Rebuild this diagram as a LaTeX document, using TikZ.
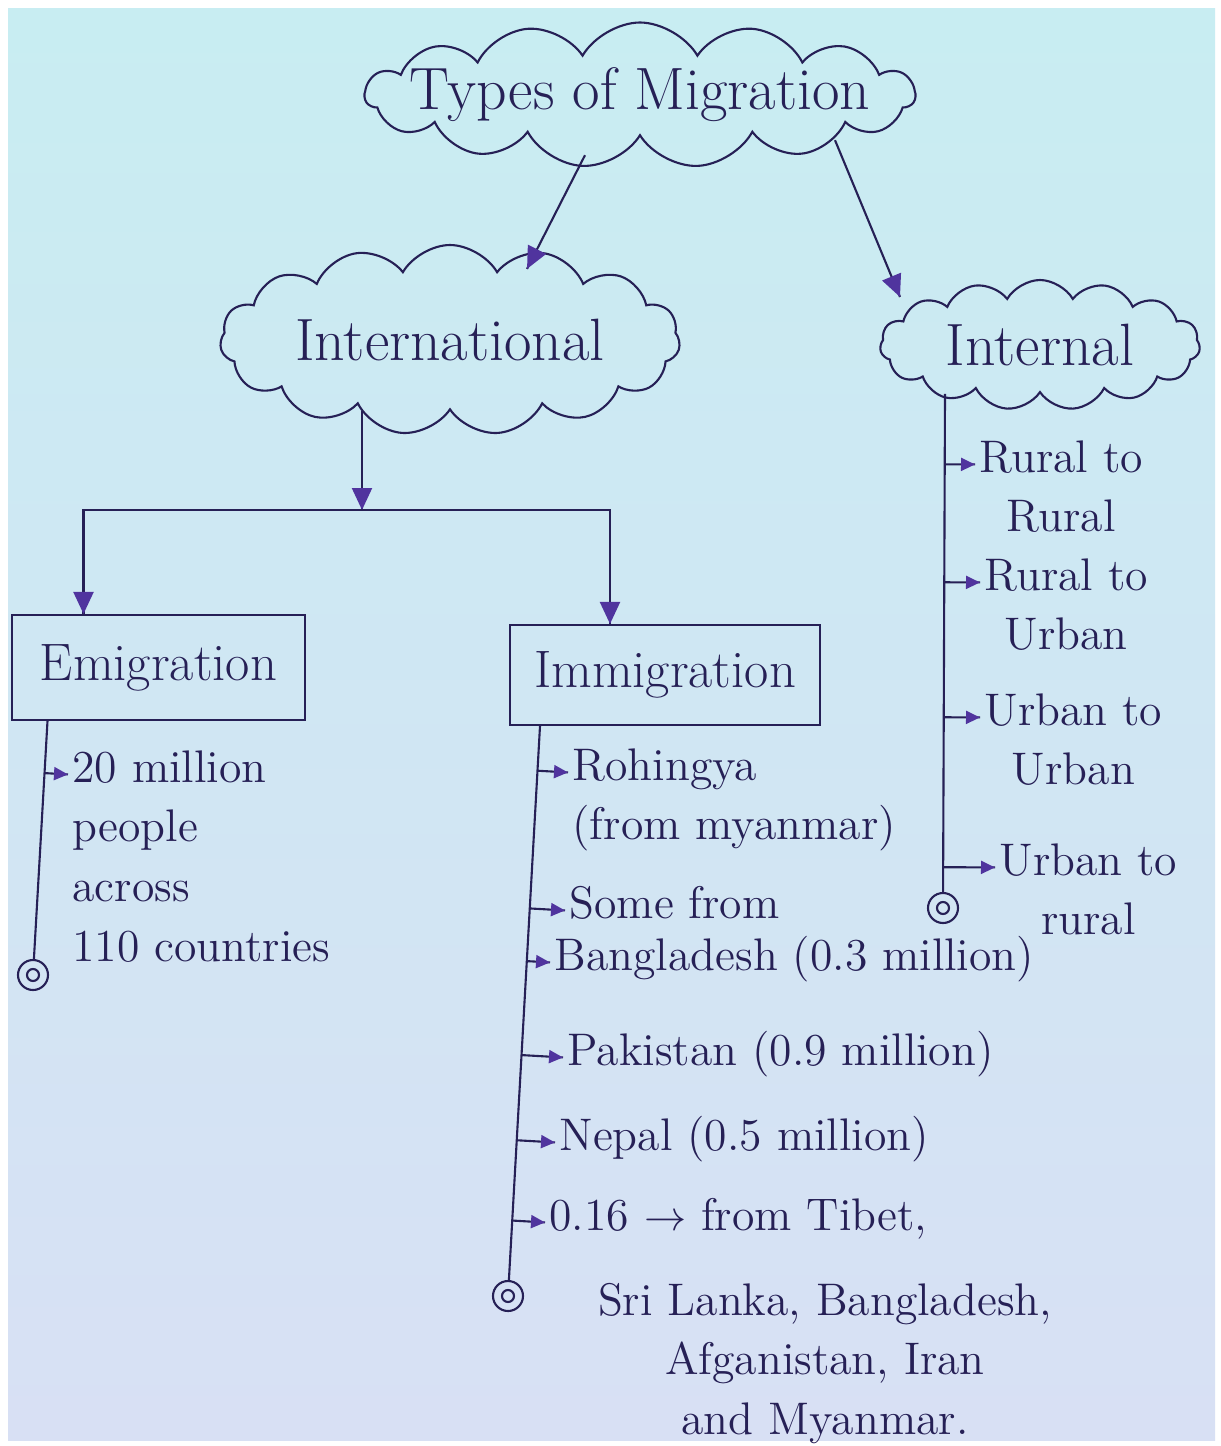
\documentclass[tikz,border=0pt]{standalone}
\usepackage{tikz}
\usepackage{xcolor}
\usetikzlibrary{decorations.markings,shapes.symbols,arrows.meta,calc}
\definecolor{ink}{RGB}{38,32,86}
\definecolor{tipink}{RGB}{80,52,158}
\definecolor{paperTop}{RGB}{200,237,242}
\definecolor{paperBot}{RGB}{216,224,244}
\newcommand{\Pile}[2][l]{\begin{tabular}[t]{@{}#1@{}}#2\end{tabular}}
\tikzset{
Nuage/.style={
 cloud, draw=ink, text=ink,
 cloud puffs=15, cloud puff arc=120,
 cloud ignores aspect, inner xsep=-0.6cm, inner ysep=-0.1cm,
 font=\fontsize{17}{20}\selectfont
 },
Boite/.style={
 rectangle, draw=ink, text=ink,
 inner sep=2pt,
 font=\fontsize{15}{18}\selectfont
 },
Texte/.style={
 text=ink, inner sep=1pt,
 anchor=base west,
 font=\fontsize{13}{17}\selectfont
 },
FinFleche/.style={
 draw=ink,
 postaction={decorate},
 decoration={markings,mark=at position 1 with {\arrow[tipink]{Triangle[length=2.2mm,width=2mm]}}}
 },
RFleche/.style={
 draw=ink,
 postaction={decorate},
 decoration={markings,mark=at position 1 with {\arrow[tipink]{Triangle[length=1.4mm,width=1.3mm]}}}
 },
Fin/.style={
 circle, draw=ink,
 minimum size=3mm,
 inner sep=0pt,
 path picture={\draw[ink] (path picture bounding box.center) circle (0.6mm);}
 }
}

\begin{document}
\begin{tikzpicture}[semithick]
\useasboundingbox (0,0) rectangle (12.21,-14.46);
\fill[white] (0,0) rectangle (12.21,-14.46);
\shade[top color=paperTop,bottom color=paperBot] (0.08,-0.08) rectangle (12.15,-14.40);

% clouds
\node[Nuage, minimum width=5.5cm, minimum height=1.45cm] (types) at (6.40,-0.95) {Types of Migration};
\node[Nuage, minimum width=4.6cm, minimum height=1.9cm] (intl) at (4.50,-3.40) {International};
\node[Nuage, minimum width=3.2cm, minimum height=1.3cm, inner xsep=-0.3cm] (inter) at (10.40,-3.45) {Internal};

% boxes
\node[Boite, minimum width=2.93cm, minimum height=1.05cm] (emi) at (1.585,-6.675) {Emigration};
\node[Boite, minimum width=3.1cm, minimum height=1.0cm] (imm) at (6.65,-6.75) {Immigration};

\draw[FinFleche] ([xshift=-5.5mm,yshift=-1.8mm]types.south) -- ([xshift=7.7mm,yshift=-2.5mm]intl.north);
\draw[FinFleche] ([xshift=19.5mm,yshift=-0.3mm]types.south) -- ([xshift=-14mm,yshift=-1.8mm]inter.north);
\coordinate (split) at (3.62,-5.10);
\draw[FinFleche] (intl.south -| split) -- (split);
\draw[FinFleche] (split) -| ([xshift=-7.5mm]emi.north);
\draw[FinFleche] (split) -| ([xshift=-5.5mm]imm.north);

% spines
\coordinate (emitop) at ([xshift=-11.1mm]emi.south);
\coordinate (immtop) at ([xshift=-12.5mm]imm.south);
\coordinate (intertop) at ([xshift=-9.5mm]inter.south);
\node[Fin] (emifin) at (0.33,-9.75) {};
\node[Fin] (immfin) at (5.08,-12.96) {};
\node[Fin] (interfin) at (9.43,-9.08) {};
\draw[ink] (emitop) -- (emifin);
\draw[ink] (immtop) -- (immfin);
\draw[ink] (intertop) -- (interfin);

% emigration
\node[Texte] (e1) at (0.68,-7.82) {\Pile{20 million\\people\\across\\110 countries}};
\draw[RFleche] ($(emitop)!(e1.mid west)!(emifin)$) -- (e1.mid west);

% immigration
\node[Texte] (i1) at (5.68,-7.80) {\Pile{Rohingya\\(from myanmar)}};
\node[Texte] (i2) at (5.65,-9.18) {Some from};
\node[Texte] (i3) at (5.50,-9.70) {Bangladesh (0.3 million)};
\node[Texte] (i4) at (5.63,-10.65) {Pakistan (0.9 million)};
\node[Texte] (i5) at (5.55,-11.50) {Nepal (0.5 million)};
\node[Texte] (i6) at (5.45,-12.30) {0.16 $\rightarrow$ from Tibet,};
\node[Texte, anchor=base] (i7) at (8.25,-13.15) {\Pile[c]{Sri Lanka, Bangladesh,\\Afganistan, Iran\\and Myanmar.}};
\draw[RFleche] ($(immtop)!(i1.mid west)!(immfin)$) -- (i1.mid west);
\draw[RFleche] ($(immtop)!(i2.mid west)!(immfin)$) -- (i2.mid west);
\draw[RFleche] ($(immtop)!(i3.mid west)!(immfin)$) -- (i3.mid west);
\draw[RFleche] ($(immtop)!(i4.mid west)!(immfin)$) -- (i4.mid west);
\draw[RFleche] ($(immtop)!(i5.mid west)!(immfin)$) -- (i5.mid west);
\draw[RFleche] ($(immtop)!(i6.mid west)!(immfin)$) -- (i6.mid west);

% internal
\node[Texte] (n1) at (9.75,-4.72) {\Pile[c]{Rural to\\Rural}};
\node[Texte] (n2) at (9.80,-5.90) {\Pile[c]{Rural to\\Urban}};
\node[Texte] (n3) at (9.80,-7.25) {\Pile[c]{Urban to\\Urban}};
\node[Texte] (n4) at (9.95,-8.75) {\Pile[c]{Urban to\\rural}};
\draw[RFleche] ($(intertop)!(n1.mid west)!(interfin)$) -- (n1.mid west);
\draw[RFleche] ($(intertop)!(n2.mid west)!(interfin)$) -- (n2.mid west);
\draw[RFleche] ($(intertop)!(n3.mid west)!(interfin)$) -- (n3.mid west);
\draw[RFleche] ($(intertop)!(n4.mid west)!(interfin)$) -- (n4.mid west);
\end{tikzpicture}
\end{document}
